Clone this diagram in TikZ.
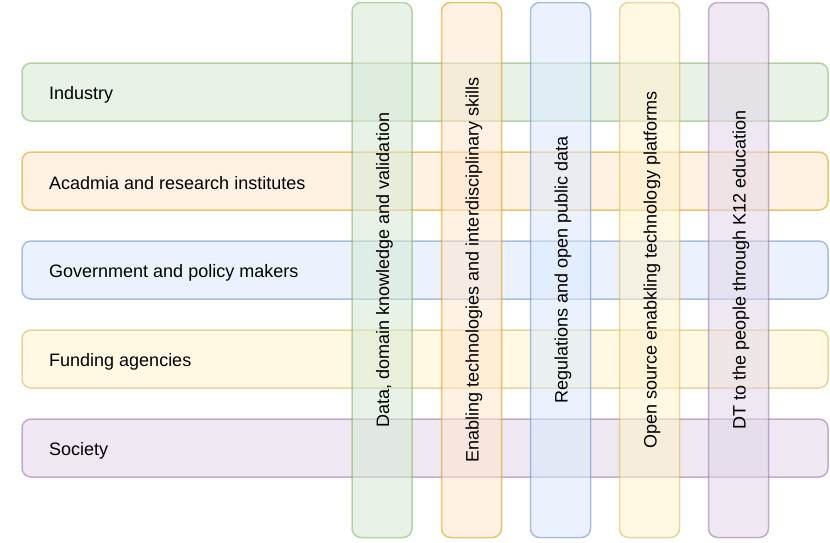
\documentclass[tikz,border=0pt]{standalone}
\usepackage{fontspec}
\setmainfont{Liberation Sans}
\definecolor{gfill}{HTML}{D5E8D4}\definecolor{gline}{HTML}{82B366}
\definecolor{ofill}{HTML}{FFE6CC}\definecolor{oline}{HTML}{D79B00}
\definecolor{bfill}{HTML}{DAE8FC}\definecolor{bline}{HTML}{6C8EBF}
\definecolor{yfill}{HTML}{FFF2CC}\definecolor{yline}{HTML}{D6B656}
\definecolor{pfill}{HTML}{E1D5E7}\definecolor{pline}{HTML}{9673A6}
\tikzset{
  bar/.style={rounded corners=9pt, line width=1.5pt, fill opacity=.55, draw opacity=.55, text opacity=1},
  lbl/.style={font=\fontsize{18}{21}\selectfont, inner sep=0pt},
}
\begin{document}
\begin{tikzpicture}[x=1pt, y=-1pt]
  \useasboundingbox (0,0) rectangle (830,542);
  % stakeholders
  \foreach \y/\c/\t [count=\i] in {92/g/Industry, 181/o/Acadmia and research institutes,
      270/b/Government and policy makers, 359/y/Funding agencies, 448/p/Society}
  {
      \node[bar, draw=\c line, fill=\c fill, minimum width=806pt, minimum height=58pt] (row\i) at (425,\y) {};
      \node[lbl, anchor=west, yshift=-2.5pt] (rowtext\i) at (49,\y) {\t};
  }
  % enablers
  \foreach \x/\c/\t [count=\i] in {382/g/{Data, domain knowledge and validation},
      471.5/o/Enabling technologies and interdisciplinary skills,
      560.5/b/Regulations and open public data,
      649.5/y/Open source enabkling technology platforms,
      738.5/p/DT to the people through K12 education}
  {
      \node[bar, draw=\c line, fill=\c fill, minimum width=60pt, minimum height=535pt] (col\i) at (\x,270) {};
      \node[lbl, rotate=90, yshift=-2.5pt] (coltext\i) at (col\i) {\t};
  }
\end{tikzpicture}
\end{document}
